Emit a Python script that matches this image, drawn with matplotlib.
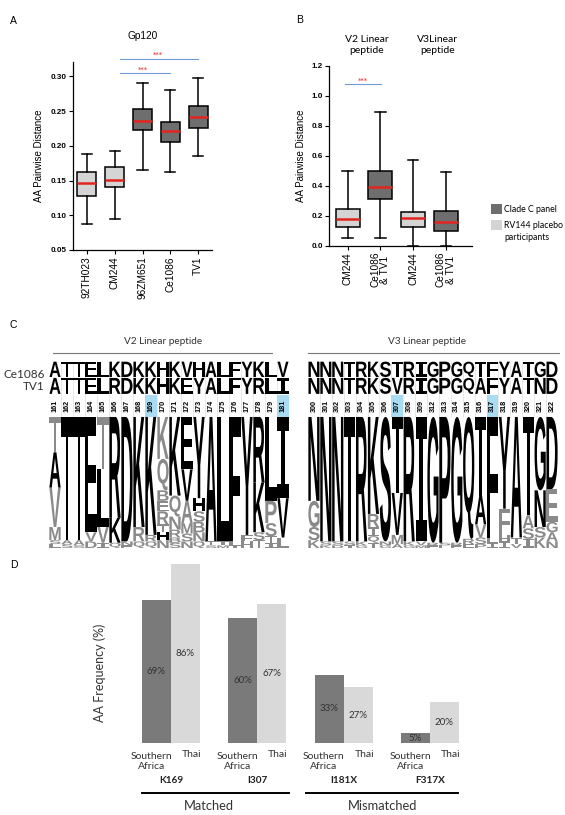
import matplotlib
matplotlib.use("Agg")
import matplotlib.pyplot as plt
from matplotlib.patches import PathPatch, Rectangle
from matplotlib.textpath import TextPath
from matplotlib.font_manager import FontProperties
from matplotlib.transforms import Affine2D

W, H = 565, 815
DARK = "#6e6e6e"
LIGHT = "#d4d4d4"
RED = "#e3231f"
BLUE = "#6f9ad8"
GREY = "#8a8a8a"
HILITE = "#a9dcf3"

# ---- panel A: Gp120 pairwise distances
A_LABELS = ["92TH023", "CM244", "96ZM651", "Ce1086", "TV1"]
A_LOW = [0.087, 0.095, 0.165, 0.162, 0.186]
A_Q1 = [0.128, 0.141, 0.223, 0.206, 0.226]
A_MED = [0.147, 0.151, 0.236, 0.221, 0.241]
A_Q3 = [0.163, 0.169, 0.253, 0.234, 0.257]
A_HIGH = [0.188, 0.193, 0.291, 0.280, 0.297]
A_DARK = [False, False, True, True, True]

# ---- panel B: linear peptides
B_LABELS = ["CM244", "Ce1086\n& TV1", "CM244", "Ce1086\n& TV1"]
B_LOW = [0.05, 0.05, 0.0, 0.0]
B_Q1 = [0.125, 0.31, 0.125, 0.10]
B_MED = [0.175, 0.395, 0.185, 0.155]
B_Q3 = [0.245, 0.50, 0.225, 0.235]
B_HIGH = [0.50, 0.895, 0.57, 0.49]
B_DARK = [False, True, False, True]

# ---- panel C: logos (stacks listed top to bottom)
V2_POS = ["161", "162", "163", "164", "165", "166", "167", "168", "169", "170",
          "171", "172", "173", "174", "175", "176", "177", "178", "179", "181"]
V2_CE1086 = "ATTELKDKKHKVHALFYKLV"
V2_TV1 = "ATTELRDKKHKEYALFYRLI"
V2_LOGO = [
    [("T", .27), ("A", .27), ("V", .30), ("M", .10), ("S", .03), ("L", .03)],
    [("T", .94), ("A", .03), ("S", .03)],
    [("T", .94), ("A", .04), ("S", .02)],
    [("E", .88), ("V", .07), ("D", .05)],
    [("T", .40), ("L", .44), ("V", .12), ("I", .04)],
    [("R", .77), ("K", .19), ("Q", .04)],
    [("D", .95), ("N", .03), ("E", .02)],
    [("K", .84), ("R", .11), ("Q", .05)],
    [("K", .90), ("R", .05), ("Q", .05)],
    [("K", .32), ("Q", .24), ("B", .08), ("E", .08), ("R", .10), ("T", .06), ("H", .06), ("N", .06)],
    [("K", .60), ("Q", .16), ("N", .10), ("R", .06), ("B", .04), ("S", .04)],
    [("E", .40), ("V", .24), ("A", .17), ("M", .08), ("S", .06), ("N", .05)],
    [("Y", .62), ("H", .10), ("S", .08), ("B", .08), ("N", .07), ("Q", .05)],
    [("A", .95), ("T", .03), ("S", .02)],
    [("L", .95), ("I", .03), ("M", .02)],
    [("F", .95), ("L", .03), ("I", .02)],
    [("Y", .90), ("F", .05), ("H", .05)],
    [("R", .50), ("K", .38), ("S", .06), ("T", .06)],
    [("L", .64), ("P", .17), ("S", .10), ("T", .05), ("I", .04)],
    [("I", .62), ("V", .30), ("L", .08)],
]
V2_MARK = ["169", "181"]

V3_POS = ["300", "301", "302", "303", "304", "305", "306", "307", "308", "309", "312",
          "313", "314", "315", "316", "317", "318", "319", "320", "321", "322"]
V3_CE1086 = "NNNTRKSTRIGPGQTFYATGD"
V3_TV1 = "NNNTRKSVRIGPGQAFYATND"
V3_LOGO = [
    [("N", .64), ("G", .20), ("S", .10), ("K", .06)],
    [("N", .95), ("S", .03), ("K", .02)],
    [("N", .95), ("S", .03), ("D", .02)],
    [("T", .95), ("S", .03), ("I", .02)],
    [("R", .95), ("K", .03), ("G", .02)],
    [("K", .74), ("R", .10), ("I", .07), ("Q", .05), ("T", .04)],
    [("S", .95), ("N", .03), ("G", .02)],
    [("T", .58), ("V", .32), ("M", .07), ("A", .03)],
    [("R", .95), ("K", .03), ("G", .02)],
    [("I", .95), ("V", .03), ("M", .02)],
    [("G", .96), ("R", .02), ("E", .02)],
    [("P", .96), ("S", .02), ("L", .02)],
    [("G", .96), ("R", .02), ("E", .02)],
    [("Q", .93), ("R", .04), ("E", .03)],
    [("T", .60), ("A", .22), ("V", .10), ("S", .05), ("P", .03)],
    [("F", .92), ("L", .04), ("I", .04)],
    [("Y", .70), ("F", .20), ("H", .05), ("I", .05)],
    [("A", .92), ("T", .05), ("V", .03)],
    [("T", .75), ("A", .10), ("S", .08), ("I", .07)],
    [("G", .56), ("N", .28), ("S", .08), ("K", .08)],
    [("D", .55), ("E", .25), ("G", .08), ("A", .07), ("N", .05)],
]
V3_MARK = ["307", "317"]

# ---- panel D: AA frequency
D_SITES = ["K169", "I307", "I181X", "F317X"]
D_SOUTH_AFRICA = [69, 60, 33, 5]
D_THAI = [86, 67, 27, 20]
D_GROUPS = ["Matched", "Mismatched"]

FP_LOGO = FontProperties(family="Liberation Sans", weight="bold")
FP_MONO = FontProperties(family="DejaVu Sans Mono", weight="bold")


def axes_px(fig, x0, y0, x1, y1):
    return fig.add_axes([x0 / W, 1 - y1 / H, (x1 - x0) / W, (y1 - y0) / H])


def ftext(fig, x, y, s, **kw):
    return fig.text(x / W, 1 - y / H, s, **kw)


def fline(fig, x0, x1, y, **kw):
    fig.add_artist(plt.Line2D([x0 / W, x1 / W], [1 - y / H] * 2, transform=fig.transFigure, **kw))


def box_panel(ax, low, q1, med, q3, high, dark, width, capw):
    stats = [dict(whislo=a, q1=b, med=c, q3=d, whishi=e, fliers=[])
             for a, b, c, d, e in zip(low, q1, med, q3, high)]
    bp = ax.bxp(stats, positions=range(1, len(stats) + 1), widths=width, capwidths=capw,
                patch_artist=True, showfliers=False,
                boxprops=dict(edgecolor="black", linewidth=1.1),
                whiskerprops=dict(color="black", linewidth=1.1),
                capprops=dict(color="black", linewidth=1.1),
                medianprops=dict(color=RED, linewidth=1.8))
    for patch, d in zip(bp["boxes"], dark):
        patch.set_facecolor(DARK if d else LIGHT)
    for k in ("whiskers", "caps"):
        for ln in bp[k]:
            ln.set_clip_on(False)
    for s in ("top", "right"):
        ax.spines[s].set_visible(False)
    for s in ("left", "bottom"):
        ax.spines[s].set_linewidth(0.9)
    ax.tick_params(direction="out", length=3, width=0.8, labelsize=5.8, pad=1.5)


def glyph(ax, ch, x, y, w, h, color):
    if h <= 0:
        return
    tp = TextPath((0, 0), ch, size=10, prop=FP_MONO if ch == "I" else FP_LOGO)
    bb = tp.get_extents()
    tr = Affine2D().translate(-bb.x0, -bb.y0).scale(w / bb.width, h / bb.height).translate(x, y)
    ax.add_patch(PathPatch(tr.transform_path(tp), facecolor=color, edgecolor="none", lw=0))


def logo(ax, pos, seq1, seq2, stacks, marks):
    n = len(pos)
    ax.set_xlim(0, n)
    ax.set_ylim(0, 1.427)
    ax.axis("off")
    for i in range(n):
        if pos[i] in marks:
            ax.add_patch(Rectangle((i, 1.0), 1, 0.168, facecolor=HILITE, edgecolor="none"))
        ax.text(i + 0.5, 1.084, pos[i], rotation=90, ha="center", va="center",
                fontsize=5.2, fontweight="bold", family="Liberation Sans")
        glyph(ax, seq2[i], i + 0.04, 1.176, 0.92, 0.122, "black")
        glyph(ax, seq1[i], i + 0.04, 1.305, 0.92, 0.117, "black")
        top = 1.0
        for ch, f in stacks[i]:
            col = "black" if ch in (seq1[i], seq2[i]) else GREY
            glyph(ax, ch, i + 0.03, top - f, 0.94, f, col)
            top -= f
    for i in range(1, n):
        ax.plot([i, i], [1.0, 1.42], color="#d8d8d8", lw=0.4, zorder=0)


fig = plt.figure(figsize=(W / 100, H / 100), dpi=100)

# ---------------- A
axA = axes_px(fig, 73, 62.5, 212, 250)
box_panel(axA, A_LOW, A_Q1, A_MED, A_Q3, A_HIGH, A_DARK, 0.68, 0.36)
axA.set_xlim(0.5, 5.5)
axA.set_ylim(0.05, 0.32)
axA.set_yticks([0.05, 0.10, 0.15, 0.20, 0.25, 0.30])
axA.set_yticklabels(["0.05", "0.10", "0.15", "0.20", "0.25", "0.30"], fontweight="bold",
                    family="Liberation Sans")
axA.set_xticks(range(1, 6))
axA.set_xticklabels(A_LABELS, rotation=90, fontsize=7.3, family="Liberation Sans")
axA.set_ylabel("AA Pairwise Distance", fontsize=7, family="Liberation Sans", labelpad=5)
axA.set_title("Gp120", fontsize=7.3, family="Liberation Sans", pad=17)
for x0, x1, y, xs, ys in [(2.19, 5.0, 0.3255, 3.56, 0.3262), (2.19, 3.99, 0.305, 3.02, 0.3057)]:
    axA.plot([x0, x1], [y, y], color=BLUE, lw=0.8, clip_on=False)
    axA.text(xs, ys, "***", color=RED, fontsize=5, ha="center", va="bottom", clip_on=False)
ftext(fig, 10, 21, "A", fontsize=7.5, ha="left", va="center", family="Liberation Sans")

# ---------------- B
axB = axes_px(fig, 329, 66, 472, 245.7)
box_panel(axB, B_LOW, B_Q1, B_MED, B_Q3, B_HIGH, B_DARK, 0.73, 0.32)
axB.set_xlim(0.43, 4.8)
axB.set_ylim(0, 1.2)
axB.set_yticks([0.0, 0.2, 0.4, 0.6, 0.8, 1.0, 1.2])
axB.set_yticklabels(["0.0", "0.2", "0.4", "0.6", "0.8", "1.0", "1.2"], fontweight="bold",
                    family="Liberation Sans")
axB.set_xticks(range(1, 5))
axB.set_xticklabels(B_LABELS, rotation=90, fontsize=7.3, family="Liberation Sans",
                    linespacing=1.0)
axB.set_ylabel("AA Pairwise Distance", fontsize=7, family="Liberation Sans", labelpad=4)
axB.plot([0.93, 2.03], [1.078, 1.078], color=BLUE, lw=0.8, clip_on=False)
axB.text(1.46, 1.079, "***", color=RED, fontsize=5, ha="center", va="bottom")
ftext(fig, 367, 45, "V2 Linear\npeptide", fontsize=7.5, ha="center", va="center", family="Lato")
ftext(fig, 438, 45, "V3Linear\npeptide", fontsize=7.5, ha="center", va="center", family="Lato")
ftext(fig, 296, 20, "B", fontsize=7.5, ha="left", va="center", family="Liberation Sans")
for y, c in [(204, DARK), (220, LIGHT)]:
    fig.add_artist(Rectangle((490.5 / W, 1 - (y + 10) / H), 11 / W, 10 / H,
                             transform=fig.transFigure, facecolor=c, edgecolor="none"))
ftext(fig, 504, 209, "Clade C panel", fontsize=6.3, va="center", family="Lato")
ftext(fig, 504, 231.5, "RV144 placebo\nparticipants", fontsize=6.3, va="center", family="Lato",
      linespacing=1.35)

# ---------------- C
ftext(fig, 10, 325, "C", fontsize=7.5, ha="left", va="center", family="Liberation Sans")
ftext(fig, 163, 342, "V2 Linear peptide", fontsize=7.2, ha="center", va="center",
      family="Lato", color="#333333")
ftext(fig, 427, 342, "V3 Linear peptide", fontsize=7.2, ha="center", va="center",
      family="Lato", color="#333333")
fline(fig, 53, 272, 352.7, color="#777777", lw=0.8)
fline(fig, 308, 559, 352.7, color="#777777", lw=0.8)
ftext(fig, 45, 374, "Ce1086", fontsize=8.5, ha="right", va="center", family="Lato", color="#333333")
ftext(fig, 45, 387, "TV1", fontsize=8.5, ha="right", va="center", family="Lato", color="#333333")

axV2 = axes_px(fig, 49, 361, 289, 548)
logo(axV2, V2_POS, V2_CE1086, V2_TV1, V2_LOGO, V2_MARK)
axV3 = axes_px(fig, 308, 361, 558, 548)
logo(axV3, V3_POS, V3_CE1086, V3_TV1, V3_LOGO, V3_MARK)

# ---------------- D
axD = axes_px(fig, 120, 556, 480, 743.3)
axD.set_xlim(-0.59, 3.58)
axD.set_ylim(0, 90)
axD.axis("off")
xs = list(range(len(D_SITES)))
bw = 0.336
axD.bar([x - bw / 2 for x in xs], D_SOUTH_AFRICA, width=bw, color="#7a7a7a")
axD.bar([x + bw / 2 for x in xs], D_THAI, width=bw, color="#d9d9d9")
for x, sa, th, site in zip(xs, D_SOUTH_AFRICA, D_THAI, D_SITES):
    axD.text(x - bw / 2, sa / 2, f"{sa}%", ha="center", va="center", fontsize=7,
             family="Lato", color="#333333")
    axD.text(x + bw / 2, th / 2, f"{th}%", ha="center", va="center", fontsize=7,
             family="Lato", color="#333333")
    axD.text(x - bw / 2 - 0.06, -8.7, "Southern\nAfrica", ha="center", va="center",
             fontsize=7.5, family="Lato", color="#333333", linespacing=1.15, clip_on=False)
    axD.text(x + bw / 2 + 0.07, -5.6, "Thai", ha="center", va="center",
             fontsize=7.5, family="Lato", color="#333333", clip_on=False)
    axD.text(x, -18.0, site, ha="center", va="center", fontsize=7.2, fontweight="bold",
             family="Lato", color="#222222", clip_on=False)
for (x0, x1, xt), g in zip([(-0.34, 1.37, 0.44), (1.57, 3.33, 2.45)], D_GROUPS):
    axD.plot([x0, x1], [-23.75, -23.75], color="black", lw=1.4, clip_on=False)
    axD.text(xt, -30.1, g, ha="center", va="center", fontsize=9.3, family="Lato",
             color="#333333", clip_on=False)
ftext(fig, 100, 673, "AA Frequency (%)", rotation=90, fontsize=9, ha="center", va="center",
      family="Lato", color="#333333")
ftext(fig, 10, 565, "D", fontsize=7.5, ha="left", va="center", family="Liberation Sans")

fig.savefig("out.png", dpi=100)
